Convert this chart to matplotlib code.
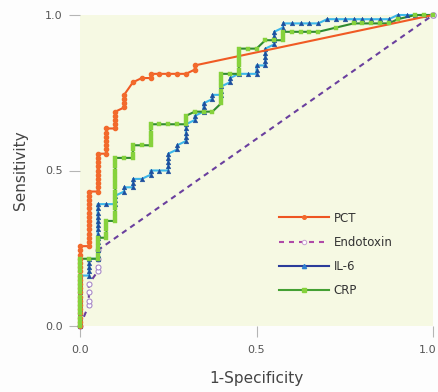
import matplotlib
matplotlib.use("Agg")
import matplotlib.pyplot as plt
import matplotlib.transforms as mtransforms
from matplotlib.lines import Line2D
import numpy as np

# ROC operating points as counts: false positives (of N_NEG) and true positives (of N_POS)
N_NEG = 40
N_POS = 74

pct_fp = [0, 0, 0, 0, 0, 0, 0, 0, 0, 0, 0, 0, 0, 0, 0, 0, 0, 0, 0, 0,
          1, 1, 1, 1, 1, 1, 1, 1, 1, 1, 1, 1, 1, 1,
          2, 2, 2, 2, 2, 2, 2, 2, 2, 2,
          3, 3, 3, 3, 3, 3, 3,
          4, 4, 4, 4, 4,
          5, 5, 5, 5,
          6, 7, 8, 8, 9, 10, 11, 12, 13, 13, 40]
pct_tp = [0, 1, 2, 3, 4, 5, 6, 7, 8, 9, 10, 11, 12, 13, 14, 15, 16, 17, 18, 19,
          19, 20, 21, 22, 23, 24, 25, 26, 27, 28, 29, 30, 31, 32,
          32, 33, 34, 35, 36, 37, 38, 39, 40, 41,
          41, 42, 43, 44, 45, 46, 47,
          47, 48, 49, 50, 51,
          52, 53, 54, 55,
          58, 59, 59, 60, 60, 60, 60, 60, 61, 62, 74]

endo_fp = [0, 1, 1, 1, 1, 2, 2, 2, 2, 40]
endo_tp = [0, 5, 6, 8, 10, 13, 14, 16, 18, 74]

il6_fp = [0, 0, 0, 0, 0, 0, 0, 0, 0, 0, 0, 0, 0,
          1, 1, 1, 1, 1,
          2, 2, 2, 2, 2, 2, 2, 2, 2, 2, 2, 2, 2, 2,
          3, 4, 4, 4, 5, 5, 6, 6, 6, 7, 8, 8, 9,
          10, 10, 10, 10, 10, 11, 11, 12, 12, 12, 12, 12,
          13, 13, 14, 14, 14, 15, 15, 16, 16, 16, 17, 17,
          18, 19, 20, 20, 20, 21, 21, 21, 21, 21,
          22, 22, 22, 22, 23, 23, 24, 25, 26, 27,
          28, 29, 30, 31, 32, 33, 34, 35, 36, 37, 38, 39, 40]
il6_tp = [0, 1, 2, 3, 4, 5, 6, 7, 8, 9, 10, 11, 12,
          12, 13, 14, 15, 16,
          16, 17, 18, 19, 20, 21, 22, 23, 24, 25, 26, 27, 28, 29,
          29, 29, 30, 31, 32, 33, 33, 34, 35, 35, 36, 37, 37,
          37, 38, 39, 40, 41, 42, 43, 44, 45, 46, 47, 48,
          49, 50, 51, 52, 53, 54, 55, 55, 56, 57, 58, 59,
          60, 60, 60, 61, 62, 62, 63, 64, 65, 66,
          67, 68, 69, 70, 71, 72, 72, 72, 72, 72,
          73, 73, 73, 73, 73, 73, 73, 73, 74, 74, 74, 74, 74]

crp_fp = [0, 0, 0, 0, 0, 0, 0, 0, 0, 0, 0, 0, 0, 0, 0, 0, 0,
          1,
          2, 2, 2, 2, 2, 2,
          3, 3, 3, 3, 3,
          4, 4, 4, 4, 4, 4, 4, 4, 4, 4, 4, 4, 4, 4, 4, 4,
          5, 6, 6, 6, 6, 7, 8, 8, 8, 8, 8, 8,
          9, 10, 11, 12, 12, 12, 13, 14, 15,
          16, 16, 16, 16, 16, 16, 16, 16,
          17, 18, 18, 18, 18, 18, 18, 18,
          19, 20, 21, 22, 23, 23, 23,
          24, 25, 26, 27, 29, 31, 32, 33, 34, 35, 36, 38, 39, 40]
crp_tp = [0, 1, 2, 3, 4, 5, 6, 7, 8, 9, 10, 11, 12, 13, 14, 15, 16,
          16,
          16, 17, 18, 19, 20, 21,
          21, 22, 23, 24, 25,
          25, 26, 27, 28, 29, 30, 31, 32, 33, 34, 35, 36, 37, 38, 39, 40,
          40, 40, 41, 42, 43, 43, 43, 44, 45, 46, 47, 48,
          48, 48, 48, 48, 49, 50, 51, 51, 51,
          53, 54, 55, 56, 57, 58, 59, 60,
          60, 60, 61, 62, 63, 64, 65, 66,
          66, 66, 68, 68, 68, 69, 70,
          70, 70, 70, 70, 71, 72, 72, 72, 72, 72, 73, 74, 74, 74]

series_names = ["PCT", "Endotoxin", "IL-6", "CRP"]
tick_values = [0.0, 0.5, 1.0]
tick_labels = ["0.0", "0.5", "1.0"]


def rates(fp, tp):
    return np.asarray(fp) / N_NEG, np.asarray(tp) / N_POS


fig = plt.figure(figsize=(4.38, 3.92), dpi=100, facecolor="#fdfdfd")
ax = fig.add_axes([80 / 438, (392 - 326) / 392, 353 / 438, 311 / 392])
ax.set_facecolor("#f6f9e3")
for sp in ax.spines.values():
    sp.set_visible(False)
ax.set_xlim(0, 1)
ax.set_ylim(0, 1)

orange, orange_mk = "#f05a24", "#f26a2c"
purple, purple_mk = "#6a3f9e", "#a889c8"
blue_line, blue_mk = "#3db7ea", "#1d4f9e"
green_line, green_mk = "#2f8a2f", "#86d23c"

x, y = rates(endo_fp, endo_tp)
ax.plot(x, y, color=purple, lw=1.5, ls=(0, (2.6, 2.2)), zorder=2, clip_on=False)
ax.plot(x[:-1], y[:-1], ls="none", marker="o", ms=3.6, mfc="white",
        mec=purple_mk, mew=0.8, zorder=2.5, clip_on=False)
ax.plot(x[-1:], y[-1:], ls="none", marker="o", ms=4, mfc="white",
        mec=purple_mk, mew=0.8, zorder=6, clip_on=False)

x, y = rates(il6_fp, il6_tp)
ax.plot(x, y, color=blue_line, lw=1.5, zorder=3, clip_on=False)
ax.plot(x, y, ls="none", marker="^", ms=3.4, mfc=blue_mk, mec=blue_mk,
        mew=0.3, zorder=3.5, clip_on=False)

x, y = rates(crp_fp, crp_tp)
ax.plot(x, y, color=green_line, lw=1.5, zorder=3.2, clip_on=False)
ax.plot(x, y, ls="none", marker="s", ms=3.0, mfc=green_mk, mec=green_mk,
        mew=0.3, zorder=6, clip_on=False)

x, y = rates(pct_fp, pct_tp)
ax.plot(x, y, color=orange, lw=1.5, zorder=5, clip_on=False)
ax.plot(x[:-1], y[:-1], ls="none", marker="o", ms=3.0, mfc=orange_mk,
        mec=orange_mk, zorder=5, clip_on=False)

ax.set_xticks(tick_values)
ax.set_xticklabels(tick_labels)
ax.set_yticks(tick_values)
ax.set_yticklabels(tick_labels)
ax.tick_params(axis="both", direction="out", length=8, width=0.8,
               color="#b5b5b5", labelcolor="#555555", labelsize=8)
ax.tick_params(axis="x", pad=6)
ax.tick_params(axis="y", pad=4.5)

# keep the right-most x tick label inside the figure
last = ax.get_xticklabels()[-1]
last.set_transform(last.get_transform() +
                   mtransforms.ScaledTranslation(-5 / 100, 0, fig.dpi_scale_trans))

ax.set_xlabel("1-Specificity", fontsize=11, color="#444444", labelpad=11)
ax.set_ylabel("Sensitivity", fontsize=11, color="#444444", labelpad=12)

handles = [
    Line2D([], [], color="#ee5522", lw=1.5, marker="o", ms=2.6,
           mfc=orange_mk, mec=orange_mk),
    Line2D([], [], color="#b04aa8", lw=1.5, ls=(0, (2.4, 2.4)), marker="o",
           ms=3.2, mfc="white", mec="#c9a0d0", mew=0.7),
    Line2D([], [], color="#2b3c9a", lw=1.5, marker="^", ms=3,
           mfc="#2f7fd0", mec="#2f7fd0"),
    Line2D([], [], color="#44a033", lw=1.5, marker="s", ms=2.6,
           mfc=green_mk, mec=green_mk),
]
ax.legend(handles, series_names, loc="upper left", bbox_to_anchor=(0.564, 0.368),
          frameon=False, fontsize=8.5, handlelength=4.2, handletextpad=0.4,
          labelspacing=0.95, borderaxespad=0, borderpad=0,
          labelcolor="#333333")

fig.savefig("out.png", dpi=100, facecolor=fig.get_facecolor())
